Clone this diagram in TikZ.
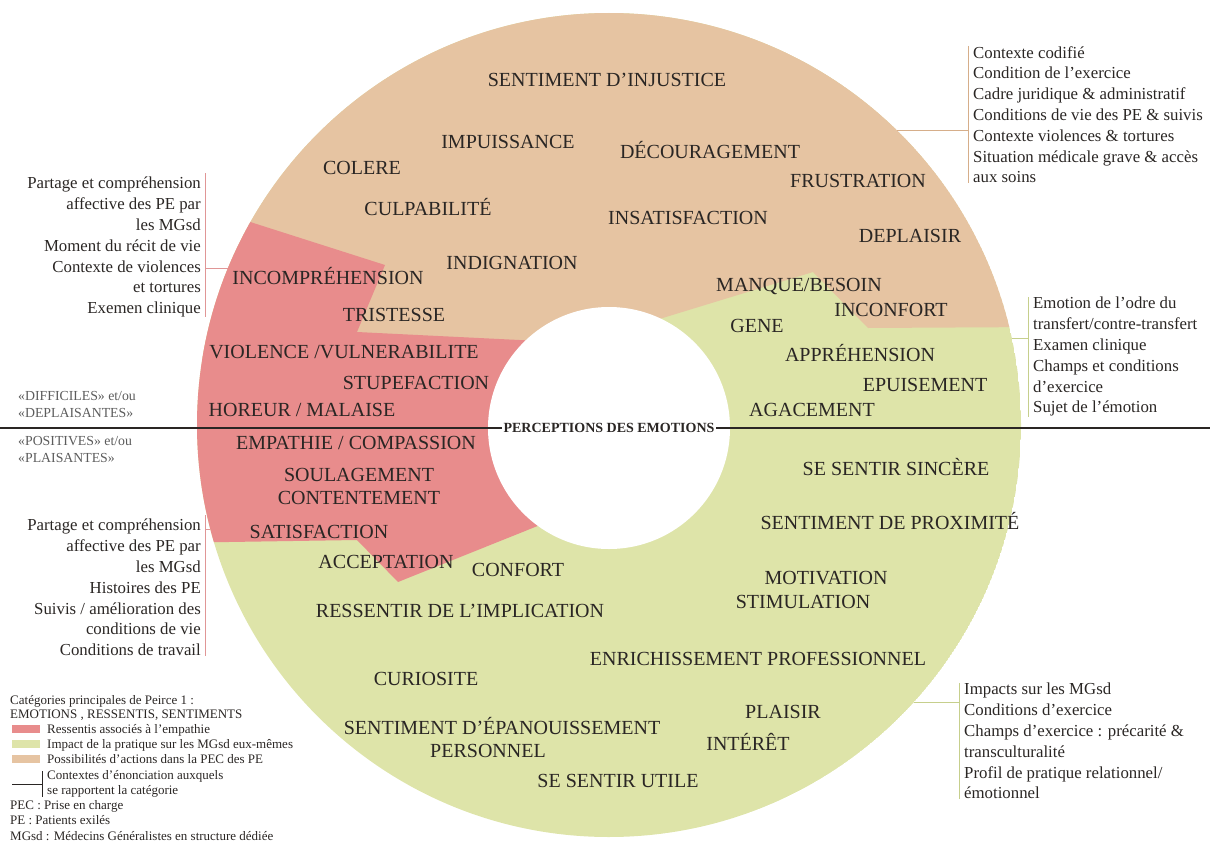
\documentclass[tikz,border=0pt]{standalone}
\usepackage{fontspec}
\setmainfont{Liberation Serif}
\usepackage{xcolor}
\definecolor{sandcol}{HTML}{E6C4A2}
\definecolor{rosecol}{HTML}{E88C8C}
\definecolor{olivcol}{HTML}{DEE4A9}
\definecolor{ink}{HTML}{2A2624}
\definecolor{greytxt}{HTML}{5C5C5C}
\definecolor{rosebrk}{HTML}{E09696}
\definecolor{sandbrk}{HTML}{D6AE8A}
\definecolor{olivbrk}{HTML}{C6CF8C}

\begin{document}
\begin{tikzpicture}[x=1pt, y=-1pt,
    emo/.style={font=\fontsize{20}{24}\selectfont, text=ink, inner sep=0pt, text height=13pt, text depth=0pt},
    ctx/.style={font=\fontsize{16.8}{20.8}\selectfont, text=ink, inner sep=0pt},
    lgd/.style={font=\fontsize{13}{15}\selectfont, text=ink, inner sep=0pt, anchor=west, text height=8.6pt, text depth=0pt},
    side/.style={font=\fontsize{13.8}{17}\selectfont, text=greytxt, inner sep=0pt, anchor=west, align=left},
    brk/.style={line width=0.9pt}]
    \useasboundingbox (0,0) rectangle (1215,843);

    \coordinate (O) at (609,425);
    \coordinate (I) at (609,428);

    % the three sectors of the ring
    \begin{scope}
        \clip (O) circle (412pt);
        \fill[olivcol] (O) circle (412pt);
        \fill[sandcol] (0,0) -- (1215,0) -- (1215,326) -- (868,328) -- (813,272) -- (630,328) -- (600,360) -- (0,360) -- cycle;
        \fill[rosecol] (150,190) -- (385,265) -- (357,332) -- (560,342) -- (560,517) -- (398,582) -- (357,540) -- (100,544) -- cycle;
    \end{scope}
    \fill[white] (I) circle (121pt);

    % axis and centre
    \node[font=\bfseries\fontsize{14}{16}\selectfont, text=ink, fill=white, inner sep=1.5pt] (centre) at (I) {PERCEPTIONS DES EMOTIONS};
    \coordinate (lend) at (0,428);
    \coordinate (rend) at (1210,428);
    \draw[ink, line width=1.4pt] (lend) -- (centre.west);
    \draw[ink, line width=1.4pt] (centre.east) -- (rend);

    % sand sector
    \node[emo] (injustice) at (607,80) {SENTIMENT D’INJUSTICE};
    \node[emo] (impuiss) at (508,142) {IMPUISSANCE};
    \node[emo] (decourag) at (710,152) {DÉCOURAGEMENT};
    \node[emo] (colere) at (362,168) {COLERE};
    \node[emo] (frustr) at (858,181) {FRUSTRATION};
    \node[emo] (culpab) at (428,209) {CULPABILITÉ};
    \node[emo] (insatisf) at (688,218) {INSATISFACTION};
    \node[emo] (deplaisir) at (910,236) {DEPLAISIR};
    \node[emo] (indign) at (512,263) {INDIGNATION};
    \node[emo] (manque) at (799,285) {MANQUE/BESOIN};
    \node[emo] (inconfort) at (891,310) {INCONFORT};

    % rose sector
    \node[emo] (incompr) at (328,278) {INCOMPRÉHENSION};
    \node[emo] (tristesse) at (394,315) {TRISTESSE};
    \node[emo] (violence) at (344,352) {VIOLENCE /VULNERABILITE};
    \node[emo] (stupef) at (416,383) {STUPEFACTION};
    \node[emo] (horeur) at (302,410) {HOREUR / MALAISE};
    \node[emo] (empathie) at (356,443) {EMPATHIE / COMPASSION};
    \node[emo] (soulag) at (359,475) {SOULAGEMENT};
    \node[emo] (content) at (359,498) {CONTENTEMENT};
    \node[emo] (satisf) at (319,532) {SATISFACTION};
    \node[emo] (accept) at (386,562) {ACCEPTATION};

    % olive sector
    \node[emo] (gene) at (757,326) {GENE};
    \node[emo] (apprehen) at (860,355) {APPRÉHENSION};
    \node[emo] (epuis) at (925,385) {EPUISEMENT};
    \node[emo] (agace) at (812,410) {AGACEMENT};
    \node[emo] (sincere) at (896,469) {SE SENTIR SINCÈRE};
    \node[emo] (proxim) at (890,523) {SENTIMENT DE PROXIMITÉ};
    \node[emo] (confort) at (518,570) {CONFORT};
    \node[emo] (motiv) at (826,578) {MOTIVATION};
    \node[emo] (stimul) at (803,602) {STIMULATION};
    \node[emo] (implic) at (460,611) {RESSENTIR DE L’IMPLICATION};
    \node[emo] (enrich) at (758,659) {ENRICHISSEMENT PROFESSIONNEL};
    \node[emo] (curios) at (426,679) {CURIOSITE};
    \node[emo] (plaisir) at (783,712) {PLAISIR};
    \node[emo] (epanou) at (502,728) {SENTIMENT D’ÉPANOUISSEMENT};
    \node[emo] (personnel) at (488,751) {PERSONNEL};
    \node[emo] (interet) at (748,744) {INTÉRÊT};
    \node[emo] (utile) at (618,781) {SE SENTIR UTILE};

    % upper / lower halves
    \node[side] (difficile) at (18,404) {«DIFFICILES» et/ou\\«DEPLAISANTES»};
    \node[side] (positive) at (18,449) {«POSITIVES» et/ou\\«PLAISANTES»};

    % contexts with brackets
    \node[ctx, anchor=north east, align=right] (ctxTL) at (201,177) {Partage et compréhension\\affective des PE par\\les MGsd\\Moment du récit de vie\\Contexte de violences\\et tortures\\Exemen clinique};
    \coordinate (bTL) at ([xshift=4pt]ctxTL.east);
    \coordinate (tTL) at (228,268);
    \draw[brk, rosebrk] ([shift={(4pt,4pt)}]ctxTL.north east) -- ([xshift=4pt]ctxTL.south east);
    \draw[brk, rosebrk] (tTL) -- (tTL -| bTL);

    \node[ctx, anchor=north east, align=right] (ctxBL) at (201,519) {Partage et compréhension\\affective des PE par\\les MGsd\\Histoires des PE\\Suivis / amélioration des\\conditions de vie\\Conditions de travail};
    \coordinate (bBL) at ([xshift=4pt]ctxBL.east);
    \coordinate (tBL) at (210,529);
    \draw[brk, rosebrk] ([shift={(4pt,4pt)}]ctxBL.north east) -- ([xshift=4pt]ctxBL.south east);
    \draw[brk, rosebrk] (tBL) -- (tBL -| bBL);

    \node[ctx, anchor=north west, align=left] (ctxTR) at (973,46) {Contexte codifié\\Condition de l’exercice\\Cadre juridique \& administratif\\Conditions de vie des PE \& suivis\\Contexte violences \& tortures\\Situation médicale grave \& accès\\aux soins};
    \coordinate (bTR) at ([xshift=-5pt]ctxTR.west);
    \coordinate (tTR) at (897,130);
    \draw[brk, sandbrk] ([xshift=-5pt]ctxTR.north west) -- ([xshift=-5pt]ctxTR.south west);
    \draw[brk, sandbrk] (tTR) -- (tTR -| bTR);

    \node[ctx, anchor=north west, align=left] (ctxRM) at (1033,297) {Emotion de l’odre du\\transfert/contre-transfert\\Examen clinique\\Champs et conditions\\d’exercice\\Sujet de l’émotion};
    \coordinate (bRM) at ([xshift=-5pt]ctxRM.west);
    \coordinate (tRM) at (1012,338);
    \draw[brk, olivbrk] ([xshift=-5pt]ctxRM.north west) -- ([xshift=-5pt]ctxRM.south west);
    \draw[brk, olivbrk] (tRM) -- (tRM -| bRM);

    \node[ctx, anchor=north west, align=left] (ctxBR) at (964,683) {Impacts sur les MGsd\\Conditions d’exercice\\Champs d’exercice : précarité \&\\transculturalité\\Profil de pratique relationnel/\\émotionnel};
    \coordinate (bBR) at ([xshift=-5pt]ctxBR.west);
    \coordinate (tBR) at (914,702);
    \draw[brk, olivbrk] ([xshift=-5pt]ctxBR.north west) -- ([xshift=-5pt]ctxBR.south west);
    \draw[brk, olivbrk] (tBR) -- (tBR -| bBR);

    % legend
    \node[lgd] (peirce) at (10,700) {Catégories principales de Peirce 1 :};
    \node[lgd] (emotions) at (10,714) {EMOTIONS , RESSENTIS, SENTIMENTS};
    \fill[rosecol] (12,725) rectangle (40,733);
    \node[lgd] (lgrose) at (47,729) {Ressentis associés à l’empathie};
    \fill[olivcol] (12,740) rectangle (40,748);
    \node[lgd] (lgoliv) at (47,744) {Impact de la pratique sur les MGsd eux-mêmes};
    \fill[sandcol] (12,755) rectangle (40,763);
    \node[lgd] (lgsand) at (47,759) {Possibilités d’actions dans la PEC des PE};
    \draw[ink, line width=0.8pt] (12,784) -- (42,784);
    \draw[ink, line width=0.8pt] (42,771) -- (42,797);
    \node[lgd] (lgctx) at (47,775) {Contextes d’énonciation auxquels};
    \node[lgd] (lgctx2) at (47,790) {se rapportent la catégorie};
    \node[lgd] (pec) at (10,805) {PEC : Prise en charge};
    \node[lgd] (pe) at (10,820) {PE : Patients exilés};
    \node[lgd] (mgsd) at (10,836) {MGsd : Médecins Généralistes en structure dédiée};
\end{tikzpicture}
\end{document}
